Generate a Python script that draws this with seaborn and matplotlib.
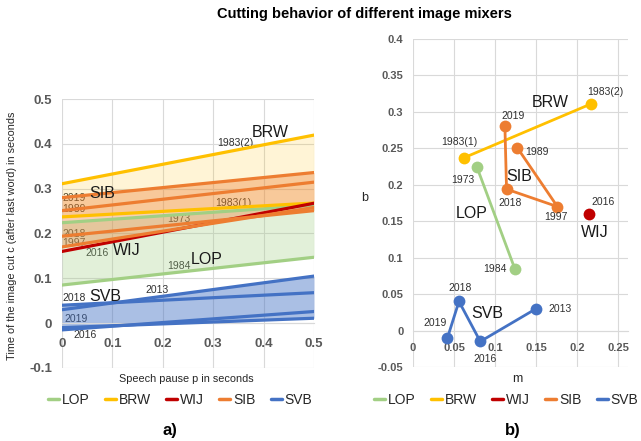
import numpy as np
import pandas as pd
import matplotlib
matplotlib.use("Agg")
import matplotlib.pyplot as plt
import seaborn as sns
from matplotlib.lines import Line2D
from matplotlib.ticker import FuncFormatter, MultipleLocator

# ---------------- data ----------------
mixers = ["LOP", "BRW", "WIJ", "SIB", "SVB"]

lop_years = ["1973", "1984"]
lop_m = [0.078, 0.124]
lop_b = [0.224, 0.085]

brw_years = ["1983(1)", "1983(2)"]
brw_m = [0.062, 0.217]
brw_b = [0.237, 0.311]

wij_years = ["2016"]
wij_m = [0.215]
wij_b = [0.160]

sib_years = ["2019", "2018", "1997", "1989"]
sib_m = [0.112, 0.114, 0.176, 0.127]
sib_b = [0.280, 0.194, 0.170, 0.251]

svb_years = ["2019", "2018", "2016", "2013"]
svb_m = [0.042, 0.056, 0.082, 0.150]
svb_b = [-0.010, 0.040, -0.015, 0.030]

p_range = [0.0, 0.5]   # speech pause interval shown in panel a)

# ---------------- styling ----------------
palette = {"LOP": "#A2CF84", "BRW": "#FFC000", "WIJ": "#C00000",
           "SIB": "#ED7D31", "SVB": "#4472C4"}
fill_alpha = {"LOP": 0.30, "BRW": 0.16, "SIB": 0.36, "SVB": 0.45}
grid_c = "#D9D9D9"
tick_c = "#595959"
txt_c = "#303030"

sns.set_theme(style="whitegrid")
plt.rcParams["font.family"] = ["Liberation Sans", "DejaVu Sans"]

groups = [("LOP", lop_years, lop_m, lop_b), ("BRW", brw_years, brw_m, brw_b),
          ("WIJ", wij_years, wij_m, wij_b), ("SIB", sib_years, sib_m, sib_b),
          ("SVB", svb_years, svb_m, svb_b)]
rows = []
for name, yrs, ms, bs in groups:
    for y, m, b in zip(yrs, ms, bs):
        rows.append(dict(mixer=name, year=y, m=m, b=b))
coef = pd.DataFrame(rows)

lines = pd.DataFrame([dict(mixer=r.mixer, unit=r.mixer + r.year, p=p, c=r.b + r.m * p)
                      for r in coef.itertuples() for p in p_range])

fig = plt.figure(figsize=(6.41, 4.41), dpi=100)
axL = fig.add_axes([62 / 641, 1 - 368 / 441, 252 / 641, 269 / 441])
axR = fig.add_axes([413 / 641, 1 - 367 / 441, 215 / 641, 328 / 441])

fmt = FuncFormatter(lambda v, _: "{:g}".format(round(v, 3)))

# ---------------- panel a) ----------------
pgrid = np.linspace(p_range[0], p_range[1], 201)
for name in ["BRW", "LOP", "SIB", "SVB"]:
    sub = coef[coef.mixer == name]
    cs = np.array([b + m * pgrid for m, b in zip(sub.m, sub.b)])
    axL.fill_between(pgrid, cs.min(axis=0), cs.max(axis=0), color=palette[name],
                     alpha=fill_alpha[name], lw=0, zorder=1.5)

sns.lineplot(data=lines, x="p", y="c", hue="mixer", units="unit", estimator=None,
             palette=palette, hue_order=mixers, legend=False, lw=2.3, ax=axL, zorder=3)

axL.set_xlim(0, 0.5)
axL.set_ylim(-0.1, 0.5)
axL.xaxis.set_major_locator(MultipleLocator(0.1))
axL.yaxis.set_major_locator(MultipleLocator(0.1))
axL.xaxis.set_major_formatter(fmt)
axL.yaxis.set_major_formatter(fmt)
axL.set_xlabel("")
axL.set_ylabel("")

big_L = [("BRW", 0.413, 0.425), ("SIB", 0.079, 0.290), ("WIJ", 0.128, 0.161),
         ("LOP", 0.287, 0.143), ("SVB", 0.085, 0.060)]
small_L = [("1983(2)", 0.343, 0.402), ("2019", 0.024, 0.279), ("1989", 0.024, 0.254),
           ("1983(1)", 0.340, 0.268), ("1973", 0.232, 0.232), ("2018", 0.024, 0.199),
           ("1997", 0.024, 0.178), ("2016", 0.070, 0.156), ("1984", 0.232, 0.127),
           ("2018", 0.024, 0.056), ("2013", 0.188, 0.074), ("2019", 0.028, 0.009),
           ("2016", 0.046, -0.027)]
for t, x, y in big_L:
    axL.text(x, y, t, fontsize=11.5, color="#1a1a1a", ha="center", va="center", zorder=4)
for t, x, y in small_L:
    axL.text(x, y, t, fontsize=7.5, color=txt_c, ha="center", va="center", zorder=1.2)

# ---------------- panel b) ----------------
sns.lineplot(data=coef, x="m", y="b", hue="mixer", hue_order=mixers, palette=palette,
             sort=False, estimator=None, marker="o", markersize=8.5, markeredgewidth=0,
             lw=2.0, legend=False, ax=axR, zorder=3)

axR.set_xlim(0, 0.262)
axR.set_ylim(-0.05, 0.4)
axR.xaxis.set_major_locator(MultipleLocator(0.05))
axR.yaxis.set_major_locator(MultipleLocator(0.05))
axR.xaxis.set_major_formatter(fmt)
axR.yaxis.set_major_formatter(fmt)
axR.set_xlabel("")
axR.set_ylabel("")

big_R = [("BRW", 0.167, 0.313), ("SIB", 0.129, 0.211), ("LOP", 0.072, 0.161),
         ("WIJ", 0.222, 0.135), ("SVB", 0.091, 0.023)]
small_R = [("1983(2)", 0.234, 0.327), ("2019", 0.122, 0.294), ("1983(1)", 0.057, 0.259),
           ("1989", 0.151, 0.245), ("1973", 0.061, 0.207), ("2018", 0.118, 0.175),
           ("2016", 0.232, 0.176), ("1997", 0.174, 0.156), ("1984", 0.100, 0.085),
           ("2018", 0.057, 0.058), ("2013", 0.179, 0.030), ("2019", 0.027, 0.010),
           ("2016", 0.088, -0.039)]
for t, x, y in big_R:
    axR.text(x, y, t, fontsize=11.5, color="#1a1a1a", ha="center", va="center", zorder=4)
for t, x, y in small_R:
    axR.text(x, y, t, fontsize=7.5, color=txt_c, ha="center", va="center", zorder=4)

# ---------------- common axis styling ----------------
for ax, fs, xpad, ypad in [(axL, 9.5, 11, 7), (axR, 8, 9, 7)]:
    for s in ["top", "right", "left"]:
        ax.spines[s].set_visible(False)
    ax.spines["bottom"].set_position(("data", 0))
    ax.spines["bottom"].set_color(grid_c)
    ax.spines["bottom"].set_linewidth(0.8)
    ax.grid(True, color=grid_c, lw=0.8)
    ax.set_axisbelow(True)
    ax.tick_params(axis="both", length=0, labelsize=fs, labelcolor=tick_c)
    ax.tick_params(axis="x", pad=xpad)
    ax.tick_params(axis="y", pad=ypad)
    for lab in ax.get_xticklabels() + ax.get_yticklabels():
        lab.set_fontweight("bold")
    ax.set_facecolor("white")

# ---------------- figure texts ----------------
fig.text(364 / 641, 1 - 14 / 441, "Cutting behavior of different image mixers",
         ha="center", va="center", fontsize=10.5, fontweight="bold", color="#000000")
fig.text(12 / 641, 1 - 236 / 441, "Time of the image cut c (after last word) in seconds",
         rotation=90, ha="center", va="center", fontsize=7.8, color="#262626")
fig.text(186 / 641, 1 - 379 / 441, "Speech pause p in seconds",
         ha="center", va="center", fontsize=7.8, color="#262626")
fig.text(365 / 641, 1 - 198 / 441, "b", ha="center", va="center", fontsize=9, color="#262626")
fig.text(517 / 641, 1 - 379 / 441, "m", ha="center", va="center", fontsize=9, color="#262626")
fig.text(170 / 641, 1 - 430 / 441, "a)", ha="center", va="center", fontsize=12,
         fontweight="bold", color="#000000")
fig.text(513 / 641, 1 - 430 / 441, "b)", ha="center", va="center", fontsize=12,
         fontweight="bold", color="#000000")

handles = [Line2D([0], [0], color=palette[k], lw=2.5) for k in mixers]
for cx in [180 / 641, 506 / 641]:
    fig.legend(handles, mixers, loc="center", bbox_to_anchor=(cx, 1 - 400 / 441),
               ncol=5, frameon=False, fontsize=10, handlelength=0.8, handletextpad=0.2,
               columnspacing=1.1, labelcolor="#262626")

fig.savefig("out.png", dpi=100)
